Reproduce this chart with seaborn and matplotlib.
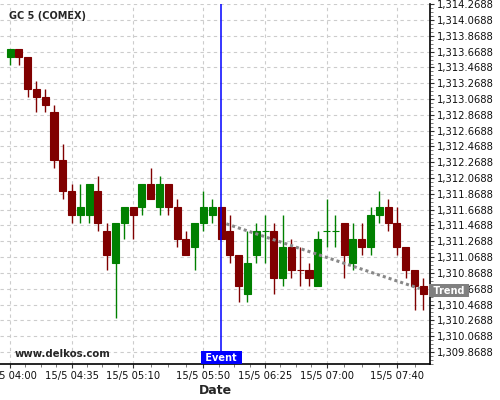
import matplotlib
matplotlib.use("Agg")
import matplotlib.pyplot as plt
import matplotlib.dates as mdates
import matplotlib.transforms as mtransforms
from matplotlib.ticker import FixedLocator, FuncFormatter, AutoMinorLocator
import seaborn as sns
import pandas as pd
import numpy as np

# 5-minute candles, GC 5 (COMEX), 15/5
times = pd.date_range("2019-05-15 04:00", periods=48, freq="5min")
opens = [1313.6, 1313.7, 1313.6, 1313.2, 1313.1, 1312.9, 1312.3, 1311.9, 1311.6, 1311.6,
         1311.9, 1311.4, 1311.0, 1311.5, 1311.7, 1311.7, 1312.0, 1311.7, 1312.0, 1311.7,
         1311.3, 1311.2, 1311.5, 1311.6, 1311.7, 1311.4, 1311.1, 1310.6, 1311.1, 1311.4,
         1311.4, 1310.8, 1311.2, 1310.9, 1310.9, 1310.7, 1311.4, 1311.4, 1311.5, 1311.0,
         1311.3, 1311.2, 1311.6, 1311.7, 1311.5, 1311.2, 1310.9, 1310.7]
highs = [1313.7, 1313.7, 1313.6, 1313.3, 1313.2, 1313.0, 1312.5, 1312.0, 1312.0, 1312.0,
         1312.1, 1311.5, 1311.5, 1311.7, 1311.7, 1312.0, 1312.2, 1312.1, 1312.0, 1311.8,
         1311.4, 1311.5, 1311.9, 1311.8, 1311.7, 1311.6, 1311.1, 1311.4, 1311.5, 1311.6,
         1311.5, 1311.6, 1311.3, 1311.2, 1311.0, 1311.4, 1311.8, 1311.6, 1311.5, 1311.5,
         1311.5, 1311.7, 1311.9, 1311.8, 1311.7, 1311.2, 1310.9, 1310.8]
lows = [1313.5, 1313.5, 1313.1, 1312.9, 1312.9, 1312.2, 1311.8, 1311.5, 1311.5, 1311.5,
        1311.4, 1310.9, 1310.3, 1311.3, 1311.3, 1311.6, 1311.8, 1311.6, 1311.6, 1311.2,
        1311.1, 1310.9, 1311.4, 1311.5, 1311.3, 1311.0, 1310.5, 1310.5, 1311.0, 1311.0,
        1310.6, 1310.7, 1310.8, 1310.7, 1310.7, 1310.7, 1311.2, 1311.2, 1310.8, 1310.9,
        1311.1, 1311.1, 1311.5, 1311.4, 1311.1, 1310.8, 1310.4, 1310.4]
closes = [1313.7, 1313.6, 1313.2, 1313.1, 1313.0, 1312.3, 1311.9, 1311.6, 1311.7, 1312.0,
          1311.5, 1311.1, 1311.5, 1311.7, 1311.6, 1312.0, 1311.8, 1312.0, 1311.7, 1311.3,
          1311.1, 1311.5, 1311.7, 1311.7, 1311.3, 1311.1, 1310.7, 1311.0, 1311.4, 1311.4,
          1310.8, 1311.2, 1310.9, 1310.9, 1310.8, 1311.3, 1311.4, 1311.4, 1311.1, 1311.3,
          1311.2, 1311.6, 1311.7, 1311.5, 1311.2, 1310.9, 1310.7, 1310.6]
# colour of the flat (open == close) candles
flat_up = {29: True, 33: False, 36: True, 37: True}

major_times = ["04:00", "04:35", "05:10", "05:50", "06:25", "07:00", "07:40"]
event_time = "06:00"
trend_times = ["06:03", "07:53"]
trend_prices = [1311.49, 1310.67]

UP, DOWN = "#008000", "#800000"

df = pd.DataFrame({"time": times, "open": opens, "high": highs, "low": lows, "close": closes})
up = [c > o or (c == o and flat_up.get(i, True)) for i, (o, c) in enumerate(zip(opens, closes))]
df["color"] = [UP if u else DOWN for u in up]

sns.set_style("whitegrid", {"grid.color": "#cccccc", "grid.linestyle": "--"})
plt.rcParams["font.family"] = ["DejaVu Sans"]

fig = plt.figure(figsize=(5, 4), dpi=100)
ax = fig.add_axes([0.0, 0.09, 0.86, 0.90])

day = pd.Timestamp("2019-05-15")
def at(hm):
    return pd.Timestamp(f"2019-05-15 {hm}")

# wicks and bodies
ax.vlines(df["time"], df["low"], df["high"], colors=df["color"], lw=1, zorder=3)
ax.bar(df["time"], df["close"] - df["open"], bottom=df["open"], width=4 / 1440,
       color=df["color"], edgecolor=df["color"], linewidth=0.8, zorder=4)

# trend line
sns.lineplot(x=[at(t) for t in trend_times], y=trend_prices, ax=ax, color="#888888",
             linestyle=(0, (1, 1)), lw=2.2, zorder=5)

# event line
ax.axvline(at(event_time), color="#0000ff", lw=1.1, zorder=6)

ax.set_xlim(at("04:00") - pd.Timedelta(minutes=5.7), at("04:00") + pd.Timedelta(minutes=238.8))
ax.set_ylim(1309.716, 1314.272)

# x ticks
maj = mdates.date2num([at(t) for t in major_times])
minor = []
steps = np.diff(maj)
for a, s in zip(maj[:-1], steps):
    minor += [a + s * k / 4 for k in (1, 2, 3)]
minor += [maj[-1] + steps[-1] * k / 4 for k in (1, 2, 3)]
ax.xaxis.set_major_locator(FixedLocator(maj))
ax.xaxis.set_minor_locator(FixedLocator(minor))
ax.xaxis.set_major_formatter(FuncFormatter(
    lambda v, p: (lambda d: f"{d.day}/{d.month} {d:%H:%M}")(mdates.num2date(v))))

# y ticks on the right
ax.yaxis.tick_right()
ax.yaxis.set_major_locator(FixedLocator(np.arange(1309.8688, 1314.3, 0.2)))
ax.yaxis.set_minor_locator(AutoMinorLocator(4))
ax.yaxis.set_major_formatter(FuncFormatter(lambda v, p: f"{v:,.4f}"))

ax.tick_params(which="major", length=3, width=0.8, color="#333333", labelsize=7.2,
               labelcolor="#111111", pad=2)
ax.tick_params(which="minor", length=2, width=0.6, color="#666666")
ax.tick_params(axis="x", which="both", bottom=True)
ax.tick_params(axis="y", which="both", right=True, left=False)

ax.grid(which="major", color="#cccccc", linestyle=(0, (3, 3)), lw=0.8)
ax.grid(which="minor", visible=False)

for side in ["left", "top"]:
    ax.spines[side].set_visible(False)
for side in ["right", "bottom"]:
    ax.spines[side].set_color("black")
    ax.spines[side].set_linewidth(1.2)

ax.set_xlabel("Date", fontsize=9, fontweight="bold", labelpad=2)
ax.set_ylabel("")

ax.text(0.022, 0.968, "GC 5 (COMEX)", transform=ax.transAxes, fontsize=7,
        fontweight="bold", va="center", ha="left")
ax.text(0.033, 0.028, "www.delkos.com", transform=ax.transAxes, fontsize=7.3,
        fontweight="bold", va="center", ha="left")

blend = mtransforms.blended_transform_factory(ax.transData, ax.transAxes)
ax.text(mdates.date2num(at(event_time)), 0.004, " Event ", transform=blend, ha="center",
        va="bottom", fontsize=7, fontweight="bold", color="white", zorder=10,
        bbox=dict(boxstyle="square,pad=0.15", fc="#0000ff", ec="none"))

blend_y = mtransforms.blended_transform_factory(ax.transAxes, ax.transData)
ax.text(1.0, 1310.645, " Trend ", transform=blend_y, ha="left", va="center",
        fontsize=7, fontweight="bold", color="white", zorder=10, clip_on=False,
        bbox=dict(boxstyle="square,pad=0.15", fc="#808080", ec="none"))

fig.savefig("out.png", dpi=100)
